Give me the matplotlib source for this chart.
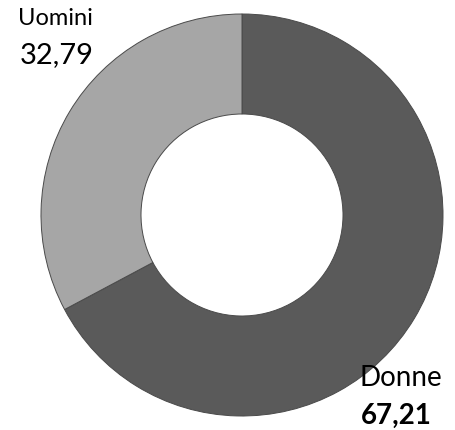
import matplotlib.pyplot as plt

labels = ["Donne", "Uomini"]
values = [67.21, 32.79]
colors = ["#5a5a5a", "#a6a6a6"]

fig = plt.figure(figsize=(4.56, 4.31), dpi=100)
ax = fig.add_axes([0, 0, 1, 1])

wedges, _ = ax.pie(values, colors=colors, startangle=90, counterclock=False,
                   radius=1.005, wedgeprops=dict(width=0.5, edgecolor="#4a4a4a", linewidth=0.7))
ax.set_xlim(-1.21, 1.07)
ax.set_ylim(-1.075, 1.08)
ax.set_aspect("auto")
ax.axis("off")

font = "Lato"
ax.text(-0.935, 0.99, labels[1], ha="center", va="center", fontsize=17, family=font)
ax.text(-0.925, 0.805, f"{values[1]:.2f}".replace(".", ","), ha="center", va="center",
        fontsize=21, family=font)
ax.text(0.795, -0.81, labels[0], ha="center", va="center", fontsize=20, family=font)
ax.text(0.77, -1.0, f"{values[0]:.2f}".replace(".", ","), ha="center", va="center",
        fontsize=20, family=font, fontweight="bold")

fig.savefig("out.png", dpi=100)
